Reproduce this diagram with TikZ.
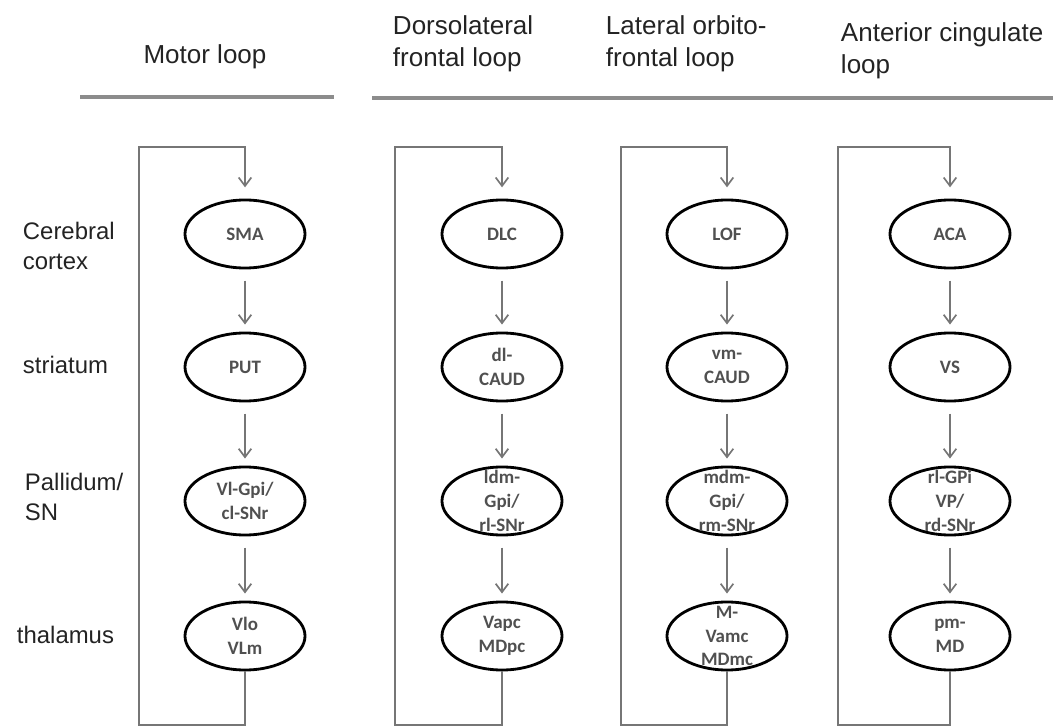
\documentclass[tikz,border=0pt]{standalone}
\usepackage{fontspec}
\setmainfont{Liberation Sans}
\newfontfamily\boxfont{Carlito}
\usetikzlibrary{shapes.geometric,arrows.meta}
\definecolor{linegray}{RGB}{118,118,118}
\definecolor{rulegray}{RGB}{140,140,140}
\definecolor{textgray}{RGB}{80,80,80}
\definecolor{inkgray}{RGB}{35,35,35}

\tikzset{
  area/.style={ellipse, draw, line width=2pt, minimum width=3cm, minimum height=1.7cm,
    inner sep=0pt, label={[areatext]center:#1}},
  areatext/.style={font=\boxfont\bfseries\fontsize{13.5}{17}\selectfont, text=textgray, align=center},
  flow/.style={draw=linegray, line width=1.2pt, -{Straight Barb[length=6pt,width=9pt]},
    shorten <=8pt, shorten >=5pt},
  back/.style={draw=linegray, line width=1.2pt, -{Straight Barb[length=6pt,width=9pt]},
    shorten >=8pt},
  rule/.style={draw=rulegray, line width=2.6pt},
  head/.style={font=\fontsize{18.5}{23}\selectfont, text=inkgray, align=left, anchor=west},
  rowlabel/.style={font=\fontsize{17}{21}\selectfont, text=inkgray, align=left, anchor=west}
}

\begin{document}
\begin{tikzpicture}[x=0.025cm, y=-0.025cm]
\useasboundingbox (0,0) rectangle (1053,727);

% headings
\node[head, anchor=center] (hmotor) at (205,57) {Motor loop};
\node[head] (hdlc) at (388,44) {Dorsolateral\\frontal loop};
\node[head] (hlof) at (601,44) {Lateral orbito-\\frontal loop};
\node[head] (haca) at (836,51) {Anterior cingulate\\loop};
\draw[rule] (80,97) -- (334,97);
\draw[rule] (372,98) -- (1053,98);

% row labels
\node[rowlabel] (cortex) at (18,246) {Cerebral\\cortex};
\node[rowlabel] (striatum) at (18,365) {striatum};
\node[rowlabel] (pallidum) at (20,497) {Pallidum/\\SN};
\node[rowlabel] (thalamus) at (12,635) {thalamus};

% motor loop
\node[area={SMA}] (m1) at (245,234) {};
\node[area={PUT}] (m2) at (245,367) {};
\node[area={Vl-Gpi/\\cl-SNr}] (m3) at (245,501) {};
\node[area={Vlo\\VLm}] (m4) at (245,636) {};
\draw[flow] (m1) -- (m2);
\draw[flow] (m2) -- (m3);
\draw[flow] (m3) -- (m4);
\draw[back] (m4.south) |- (139,725) |- (245,147) -- (m1.north);

% dorsolateral frontal loop
\node[area={DLC}] (d1) at (502,234) {};
\node[area={dl-\\CAUD}] (d2) at (502,367) {};
\node[area={ldm-\\Gpi/\\rl-SNr}] (d3) at (502,501) {};
\node[area={Vapc\\MDpc}] (d4) at (502,636) {};
\draw[flow] (d1) -- (d2);
\draw[flow] (d2) -- (d3);
\draw[flow] (d3) -- (d4);
\draw[back] (d4.south) |- (395,725) |- (502,147) -- (d1.north);

% lateral orbitofrontal loop
\node[area={LOF}] (l1) at (727,234) {};
\node[area={vm-\\CAUD}] (l2) at (727,367) {};
\node[area={mdm-\\Gpi/\\rm-SNr}] (l3) at (727,501) {};
\node[area={M-\\Vamc\\MDmc}] (l4) at (727,636) {};
\draw[flow] (l1) -- (l2);
\draw[flow] (l2) -- (l3);
\draw[flow] (l3) -- (l4);
\draw[back] (l4.south) |- (621,725) |- (727,147) -- (l1.north);

% anterior cingulate loop
\node[area={ACA}] (a1) at (950,234) {};
\node[area={VS}] (a2) at (950,367) {};
\node[area={rl-GPi\\VP/\\rd-SNr}] (a3) at (950,501) {};
\node[area={pm-\\MD}] (a4) at (950,636) {};
\draw[flow] (a1) -- (a2);
\draw[flow] (a2) -- (a3);
\draw[flow] (a3) -- (a4);
\draw[back] (a4.south) |- (838,725) |- (950,147) -- (a1.north);
\end{tikzpicture}
\end{document}
